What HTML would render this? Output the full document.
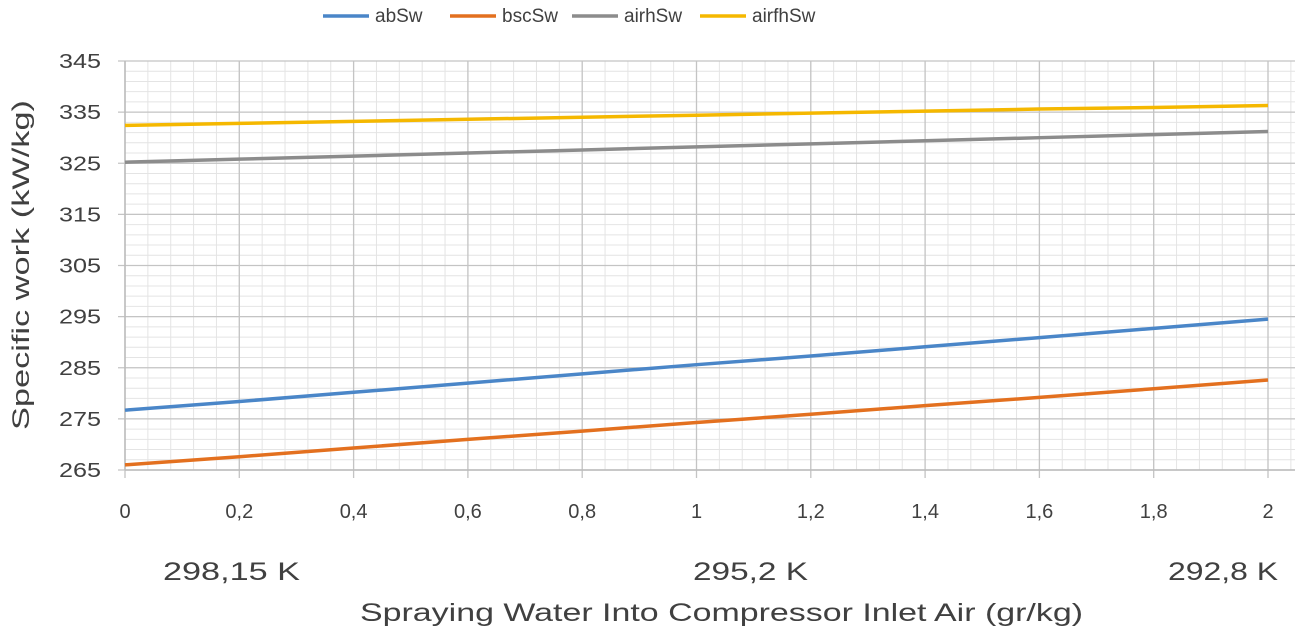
<!DOCTYPE html>
<html><head><meta charset="utf-8"><style>
body{margin:0;background:#fff;}
svg text{font-family:"Liberation Sans",sans-serif;fill:#404040;}
</style></head><body>
<svg id="c" width="1300" height="636" xmlns="http://www.w3.org/2000/svg"></svg>
<script>
const xVals=[0,0.2,0.4,0.6,0.8,1,1.2,1.4,1.6,1.8,2];
const xTicks=["0","0,2","0,4","0,6","0,8","1","1,2","1,4","1,6","1,8","2"];
const yTicks=[265,275,285,295,305,315,325,335,345];
const abSw=[276.7,278.4,280.2,282.0,283.8,285.6,287.3,289.1,290.9,292.7,294.5];
const bscSw=[266.0,267.6,269.3,271.0,272.6,274.3,275.9,277.6,279.2,280.9,282.6];
const airhSw=[325.2,325.8,326.4,327.0,327.6,328.2,328.8,329.4,330.0,330.6,331.2];
const airfhSw=[332.4,332.8,333.2,333.6,334.0,334.4,334.8,335.2,335.6,335.9,336.3];
const seriesNames=["abSw","bscSw","airhSw","airfhSw"];
const tempLabels=["298,15  K","295,2  K","292,8  K"];
const NS="http://www.w3.org/2000/svg";
const svg=document.getElementById('c');
const X0=125,X1=1268,Y0=470,Y1=61,RIGHT=1295;
const xs=v=>X0+(v-0)/(2-0)*(X1-X0);
const ys=v=>Y0-(v-265)/(345-265)*(Y0-Y1);
function mk(t,a){const e=document.createElementNS(NS,t);for(const k in a)e.setAttribute(k,a[k]);svg.appendChild(e);return e;}
for(let v=265;v<=345;v+=2){const l=mk('line',{x1:X0,x2:RIGHT,y1:ys(v),y2:ys(v),stroke:'#e4e4e4','stroke-width':1});

}
for(let i=0;i<=55;i++){const x=X0+i*(X1-X0)/50;if(x>RIGHT)break;const l=mk('line',{x1:x,x2:x,y1:Y1,y2:Y0,stroke:'#e4e4e4','stroke-width':1});

}
yTicks.forEach(v=>{const l=mk('line',{x1:X0-7,x2:RIGHT,y1:ys(v),y2:ys(v),stroke:'#c4c4c4','stroke-width':1.3});


const t=mk('text',{x:X0-24,y:ys(v)+7,'text-anchor':'end','font-size':20,'textLength':42,'lengthAdjust':'spacingAndGlyphs'});t.textContent=v;

});
xVals.forEach((v,i)=>{const l=mk('line',{x1:xs(v),x2:xs(v),y1:Y1,y2:Y0+8,stroke:'#c4c4c4','stroke-width':1.3});


const t=mk('text',{x:xs(v),y:518,'text-anchor':'middle','font-size':20});t.textContent=xTicks[i];

});
mk('line',{x1:X0,x2:X0,y1:Y1,y2:Y0,stroke:'#bbb','stroke-width':1.5});
mk('line',{x1:X0,x2:RIGHT,y1:Y0,y2:Y0,stroke:'#bbb','stroke-width':1.5});
const data=[abSw,bscSw,airhSw,airfhSw];
const colors=["#4a86c8","#e3701f","#8c8c8c","#f5b800"];
data.forEach((d,k)=>{const p=mk('polyline',{points:d.map((v,i)=>xs(xVals[i])+','+ys(v)).join(' '),fill:'none',stroke:colors[k],'stroke-width':3.5});

});
const lx=[323,450,572,700];
seriesNames.forEach((n,k)=>{const l=mk('line',{x1:lx[k],x2:lx[k]+46,y1:16,y2:16,stroke:colors[k],'stroke-width':3.5});


const t=mk('text',{x:lx[k]+52,y:22,'font-size':19});t.textContent=n;

});
[[163,137],[693,115],[1168,110]].forEach((p,i)=>{const t=mk('text',{x:p[0],y:580,'font-size':25,'textLength':p[1],'lengthAdjust':'spacingAndGlyphs'});t.textContent=tempLabels[i];

});
const xt=mk('text',{x:360,y:621,'font-size':25,'textLength':723,'lengthAdjust':'spacingAndGlyphs'});xt.textContent="Spraying Water Into Compressor Inlet Air (gr/kg)";


const yt=mk('text',{x:0,y:0,'text-anchor':'middle','font-size':24,'textLength':330,'lengthAdjust':'spacingAndGlyphs',transform:'translate(29,265) rotate(-90)'});yt.textContent="Specific work (kW/kg)";


</script>
</body></html>
